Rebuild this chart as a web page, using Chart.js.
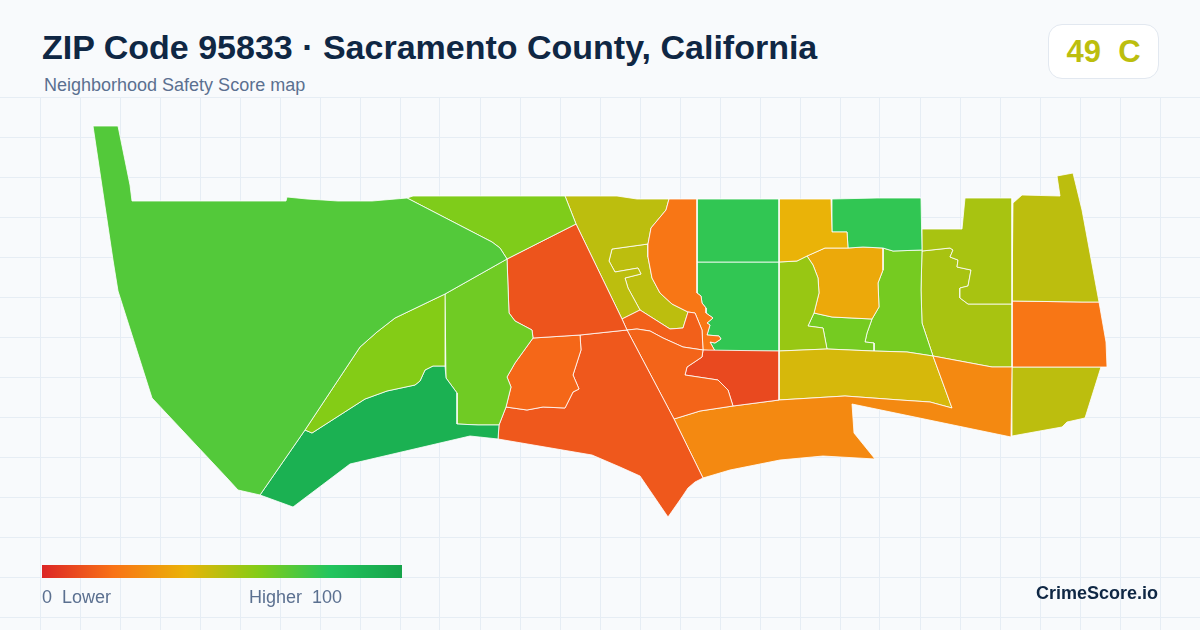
<!DOCTYPE html>
<html>
<head>
<meta charset="utf-8">
<title>ZIP Code 95833</title>
<script src="https://cdn.jsdelivr.net/npm/chart.js@4"></script>
<style>
  html, body { margin: 0; padding: 0; background: #f8fafc; }
  body { width: 1200px; height: 630px; overflow: hidden; position: relative; font-family: "Liberation Sans", Arial, sans-serif; }
  canvas { position: absolute; left: 0; top: 0; }
  .header { position: absolute; left: 0; top: 0; width: 1200px; height: 97px; background: #f8fafc; }
  .title { position: absolute; left: 42px; top: 27px; font-size: 34px; line-height: 40px; font-weight: 700; color: #0f2744; white-space: nowrap; }
  .subtitle { position: absolute; left: 44px; top: 75px; font-size: 18px; line-height: 20px; color: #5b7090; white-space: pre; }
  .badge { position: absolute; left: 1048px; top: 24px; width: 109px; height: 53px; background: #fff; border: 1px solid #e2e8f0; border-radius: 14px; text-align: center; font-size: 31px; line-height: 53px; font-weight: 700; color: #bcbe0e; white-space: pre; }
  .ramp { position: absolute; left: 42px; top: 565px; width: 360px; height: 13px; }
  .rampText { position: absolute; top: 587px; font-size: 18px; line-height: 20px; color: #5b7090; white-space: pre; }
  .brand { position: absolute; right: 42px; top: 583px; font-size: 18px; line-height: 20px; font-weight: 700; color: #0f2744; }
</style>
</head>
<body>
<canvas id="mapChart" width="1200" height="630"></canvas>
<div class="header">
  <div class="title">ZIP Code 95833 · Sacramento County, California</div>
  <div class="subtitle">Neighborhood Safety Score map</div>
  <div class="badge">49  C</div>
</div>
<div class="ramp" id="ramp"></div>
<div class="rampText" style="left:42px">0  Lower</div>
<div class="rampText" style="left:249px">Higher  100</div>
<div class="brand">CrimeScore.io</div>

<script>
// Neighborhood outlines
const westSide = [[93,126],[118,126],[130,185],[132,201],[286,201],[287,197],[307,199],[323,200],[338,201],[372,201],[407,198],[492,242],[500,248],[507,259],[445,294],[395,318],[377,332],[360,347],[305,430],[260,495],[238,490],[227,478],[152,398],[118,291],[113,260],[93,126]];
const limeWedge = [[445,294],[395,318],[377,332],[360,347],[305,430],[312,433],[365,399],[387,391],[415,385],[420,381],[425,370],[433,366],[445,366],[445,294]];
const southGreen = [[305,430],[312,433],[365,399],[387,391],[415,385],[420,381],[425,370],[433,366],[445,366],[446,378],[457,393],[457,424],[478,425],[499,425],[498,439],[470,436],[350,464],[293,507],[260,495],[305,430]];
const topLime = [[407,198],[413,196],[565,196],[576,224],[507,259],[500,248],[492,242],[407,198]];
const midLime = [[507,259],[509,313],[515,321],[532,330],[533,338],[515,363],[507,377],[511,387],[506,407],[499,425],[478,425],[457,424],[457,393],[446,378],[445,294],[507,259]];
const northRed = [[576,224],[622,319],[627,330],[580,335],[533,338],[532,330],[515,321],[509,313],[507,259],[576,224]];
const midOrange = [[533,338],[580,335],[581,350],[573,375],[579,389],[573,392],[565,408],[543,407],[527,410],[506,407],[511,387],[507,377],[515,363],[533,338]];
const southRed = [[506,407],[527,410],[543,407],[565,408],[573,392],[579,389],[573,375],[581,350],[580,335],[627,330],[674,419],[703,478],[695,482],[688,488],[682,497],[675,507],[668,517],[640,476],[620,467],[592,455],[498,439],[499,425],[506,407]];
const eastOfDiagonal = [[627,330],[637,329],[650,331],[663,338],[683,347],[703,350],[702,357],[687,367],[685,375],[718,380],[728,390],[733,406],[700,411],[674,419],[627,330]];
const riverStrip = [[622,319],[640,310],[670,329],[683,328],[688,312],[695,313],[702,330],[703,350],[683,347],[663,338],[650,331],[637,329],[627,330],[622,319]];
const deepRed = [[703,350],[779,351],[779,400],[733,406],[728,390],[718,380],[685,375],[687,367],[702,357],[703,350]];
const longOrange = [[674,419],[700,411],[733,406],[779,400],[845,396],[900,400],[930,402],[952,408],[933,356],[992,367],[1012,367],[1011,437],[852,404],[854,433],[875,459],[823,456],[780,460],[730,470],[703,478],[674,419]];
const yellowBand = [[779,351],[827,349],[873,351],[907,352],[933,356],[952,408],[930,402],[900,400],[845,396],[779,400],[779,351]];
const riverOrange = [[669,199],[697,199],[697,262],[697,293],[701,296],[702,303],[706,308],[706,313],[713,318],[707,323],[710,325],[707,335],[719,336],[721,339],[715,343],[710,342],[715,351],[703,350],[702,330],[695,313],[688,312],[672,304],[660,293],[652,278],[648,257],[648,244],[651,228],[666,210],[669,199]];
const oliveNorth = [[565,196],[617,196],[637,199],[669,199],[666,210],[651,228],[648,244],[612,249],[609,261],[615,272],[638,268],[641,274],[625,278],[628,288],[640,310],[622,319],[576,224],[565,196]];
const oliveHook = [[648,244],[648,257],[652,278],[660,293],[672,304],[688,312],[683,328],[670,329],[640,310],[628,288],[625,278],[641,274],[638,268],[615,272],[609,261],[612,249],[648,244]];
const greenNorth = [[697,199],[779,199],[779,262],[697,262],[697,199]];
const greenRiver = [[697,262],[779,262],[779,351],[715,351],[710,342],[715,343],[721,339],[719,336],[707,335],[710,325],[707,323],[713,318],[706,313],[706,308],[702,303],[701,296],[697,293],[697,262]];
const goldNorth = [[779,199],[831,199],[832,232],[847,232],[848,248],[825,248],[807,256],[797,261],[779,262],[779,199]];
const greenEast = [[832,199],[877,198],[921,198],[922,250],[893,251],[883,248],[863,247],[848,248],[847,232],[832,232],[832,199]];
const limeWest = [[779,262],[797,261],[807,256],[813,265],[818,278],[819,293],[814,313],[808,326],[823,328],[827,349],[779,351],[779,262]];
const goldCenter = [[807,256],[825,248],[848,248],[863,247],[883,248],[883,270],[878,283],[879,307],[872,319],[832,317],[814,313],[819,293],[818,278],[813,265],[807,256]];
const limeSouth = [[814,313],[832,317],[872,319],[867,333],[865,342],[874,343],[874,351],[827,349],[823,328],[808,326],[814,313]];
const limeEast = [[883,248],[893,251],[922,250],[921,290],[922,323],[933,356],[907,352],[874,351],[874,343],[865,342],[867,333],[872,319],[879,307],[878,283],[883,270],[883,248]];
const oliveUpper = [[922,229],[942,229],[962,229],[965,198],[1012,198],[1012,304],[968,304],[960,298],[960,288],[968,286],[971,270],[957,267],[958,260],[950,257],[953,250],[950,248],[922,251],[922,229]];
const oliveLower = [[922,251],[950,248],[953,250],[950,257],[958,260],[957,267],[971,270],[968,286],[960,288],[960,298],[968,304],[1012,304],[1012,367],[992,367],[933,356],[922,323],[921,290],[922,251]];
const northEast = [[1013,203],[1022,195],[1060,196],[1057,176],[1073,173],[1082,210],[1099,302],[1082,302],[1012,301],[1013,203]];
const eastOrange = [[1012,301],[1082,302],[1099,302],[1106,342],[1107,367],[1012,367],[1012,301]];
const southEast = [[1012,367],[1101,367],[1085,418],[1067,422],[1062,427],[1012,436],[1012,367]];

const regions = [westSide, limeWedge, southGreen, topLime, midLime, northRed, midOrange, southRed, eastOfDiagonal, riverStrip, deepRed, longOrange, yellowBand, riverOrange, oliveNorth, oliveHook, greenNorth, greenRiver, goldNorth, greenEast, limeWest, goldCenter, limeSouth, limeEast, oliveUpper, oliveLower, northEast, eastOrange, southEast];
// Safety score of each region, same order as above
const scores = [70, 60, 92, 61, 64, 12, 17, 13, 16, 15, 9, 27, 44, 21, 49, 49, 77, 77, 40, 77, 56, 37, 63, 63, 53, 53, 49, 21, 49];

// Legend colour ramp, one colour every 20 points
const rampColors = ['#dc2626', '#f97316', '#eab308', '#84cc16', '#22c55e', '#16a34a'];

// Background grid
const gridX = [40,80,120,160,200,240,280,320,360,400,440,480,520,560,600,640,680,720,760,800,840,880,920,960,1000,1040,1080,1120,1160];
const gridY = [97,137,177,217,257,297,337,377,417,457,497,537,577,617];

function hexToRgb(hex) {
  return [1, 3, 5].map(i => parseInt(hex.substr(i, 2), 16));
}

//Converts a score to its colour on the ramp
function scoreColor(score) {
  const pos = Math.min(score / 20, rampColors.length - 1.001);
  const i = Math.floor(pos);
  const a = hexToRgb(rampColors[i]);
  const b = hexToRgb(rampColors[i + 1]);
  const mix = a.map((v, k) => Math.round(v + (b[k] - v) * (pos - i)));
  return `rgb(${mix[0]}, ${mix[1]}, ${mix[2]})`;
}

document.getElementById('ramp').style.background =
  'linear-gradient(to right, ' + rampColors.join(', ') + ')';

const datasets = regions.map((points, i) => ({
  label: 'Region ' + (i + 1),
  data: points.map(p => ({x: p[0], y: p[1]})),
  showLine: true,
  fill: 'shape',
  tension: 0,
  backgroundColor: scoreColor(scores[i]),
  borderColor: '#ffffff',
  borderWidth: 0.8,
  pointRadius: 0
}));

const gridAxis = (ticks, extra) => Object.assign({
  type: 'linear',
  border: {display: false},
  grid: {color: '#e6edf4', lineWidth: 1, drawTicks: false},
  ticks: {display: false},
  afterBuildTicks: scale => { scale.ticks = ticks.map(value => ({value})); }
}, extra);

new Chart(document.getElementById('mapChart'), {
  type: 'scatter',
  data: {datasets},
  options: {
    responsive: false,
    animation: false,
    devicePixelRatio: 1,
    layout: {padding: 0},
    plugins: {legend: {display: false}, tooltip: {enabled: false}},
    scales: {
      x: gridAxis(gridX, {min: 0, max: 1200}),
      y: gridAxis(gridY, {min: 0, max: 630, reverse: true})
    }
  }
});
</script>
</body>
</html>
